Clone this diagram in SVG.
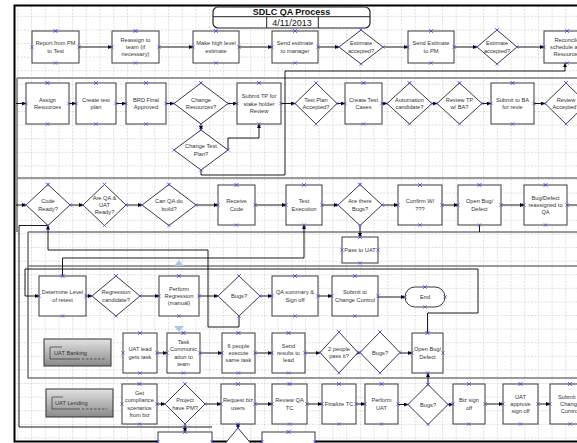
<svg xmlns="http://www.w3.org/2000/svg" width="577" height="443" viewBox="0 0 577 443">
<defs>
<pattern id="grid" patternUnits="userSpaceOnUse" x="3.6" y="2.2" width="13.7" height="13.6"><path d="M0,0.5H13.7M0.5,0V13.6" fill="none" stroke="#d0d0d0" stroke-width="0.7" stroke-dasharray="2,1.4"/></pattern>
<marker id="ah" viewBox="0 0 4 4" markerWidth="4" markerHeight="4" refX="4" refY="2" orient="auto" markerUnits="userSpaceOnUse"><path d="M0,0L4,2L0,4z" fill="#000"/></marker>
<marker id="cx" viewBox="0 0 4 4" markerWidth="4" markerHeight="4" refX="2" refY="2" markerUnits="userSpaceOnUse" overflow="visible"><path d="M0.3,0.3L3.7,3.7M0.3,3.7L3.7,0.3" stroke="#4646ff" stroke-width="0.7" fill="none"/></marker>
<linearGradient id="lg" x1="0" y1="0" x2="0" y2="1"><stop offset="0" stop-color="#e2e2e2"/><stop offset="1" stop-color="#8a8a8a"/></linearGradient>
</defs>
<style>
text{font-family:"Liberation Sans",Arial,sans-serif;font-size:5.7px;fill:#333;text-anchor:middle}
.nd rect{fill:#fff;stroke:#3a3a3a;stroke-width:1}
.cp{fill:none;stroke:none;marker-start:url(#cx);marker-mid:url(#cx);marker-end:url(#cx)}
.dm{fill:#fff;stroke:#3a3a3a;stroke-width:1;marker-start:url(#cx);marker-mid:url(#cx);marker-end:url(#cx)}
.c path{fill:none;stroke:#000;stroke-width:0.9}
.c path.a{marker-end:url(#ah)}
.lane{fill:none;stroke:#7a7a7a;stroke-width:1.6}
.lbl rect{fill:url(#lg);stroke:#333;stroke-width:1}
.lbl path{fill:none;stroke:#333;stroke-width:0.7}
.lbl text{text-anchor:start}
</style>
<rect width="577" height="443" fill="#fff"/>
<rect id="frame" x="14.5" y="5.5" width="600" height="436" fill="url(#grid)" stroke="#000" stroke-width="2"/>
<g id="lanes">
<path class="lane" d="M17,78H577M17,178H577M17,78V232M28,232H577M28,232V378H577M28,266H577"/>
</g>
<path d="M179,260L184,266H174Z" fill="#a9c8ea"/>
<path d="M174,326H184L179,332Z" fill="#a9c8ea"/>
<g id="connectors" class="c">
<path class="a" d="M79,47H112"/><path class="a" d="M159,47H193"/><path class="a" d="M239,47H272"/><path class="a" d="M318,47H339"/><path class="a" d="M383,47H408"/><path class="a" d="M454,47H477"/><path class="a" d="M517,47H544"/>
<path class="a" d="M201,170V175H285V71H565V63"/>
<path class="a" d="M16,103.5H26"/><path class="a" d="M69,103.5H76"/><path class="a" d="M116,103.5H126"/><path class="a" d="M166,103.5H174"/><path class="a" d="M228,103.5H237"/><path class="a" d="M281,103.5H295"/><path class="a" d="M337,103.5H345"/><path class="a" d="M382,103.5H387"/><path class="a" d="M432,103.5H437"/><path class="a" d="M482,103.5H491"/><path class="a" d="M534,103.5H545"/>
<path class="a" d="M201,124V130"/>
<path class="a" d="M228,150V138H259V124"/>
<path class="a" d="M16,205H26"/><path class="a" d="M70,205H83"/><path class="a" d="M126,205H142"/><path class="a" d="M196,205H218"/><path class="a" d="M255,205H286"/><path class="a" d="M322,205H338"/><path class="a" d="M382,205H398"/><path class="a" d="M442,205H458"/><path class="a" d="M501,205H524"/><path d="M567,205H577"/>
<path class="a" d="M360,225.5V237"/>
<path d="M479.5,225V232"/>
<path class="a" d="M62.5,276V258H304V225"/>
<path class="a" d="M239,316V327H208V250H48V225.5"/>
<path d="M48,225.5H19V427H212"/>
<path class="a" d="M427.5,333V313H478V269H25V296H39"/>
<path class="a" d="M86,296H92"/><path class="a" d="M140,296H159"/><path class="a" d="M199,296H218"/><path class="a" d="M260,296H272"/><path class="a" d="M318,296H332"/><path class="a" d="M378,297H405"/>
<path class="a" d="M157,353H167"/><path class="a" d="M200,353H222"/><path class="a" d="M255,353H272"/><path class="a" d="M305,353H320"/><path class="a" d="M358,353H360"/><path class="a" d="M400,353H412"/>
<path class="a" d="M157,404H165"/><path class="a" d="M205,404H221"/><path class="a" d="M255,404H272"/><path class="a" d="M307,404H322"/><path class="a" d="M356,404H365"/><path class="a" d="M398,404.5H408"/><path class="a" d="M448,404.5H453"/><path class="a" d="M485,404H503"/><path class="a" d="M538,404H550"/>
<path class="a" d="M428,384.5V373"/>
<path class="a" d="M185,424V432"/>
<path class="a" d="M238,424V428"/>
</g>
<g id="title">
<rect x="213" y="7" width="157" height="21" rx="5" fill="#fff" stroke="#222" stroke-width="1.2"/>
<path d="M213,16.7H370M266.7,16.7V28M318.3,16.7V28" fill="none" stroke="#222" stroke-width="1"/>
<text x="291.5" y="15" style="font-size:9px;font-weight:bold;fill:#111">SDLC QA Process</text>
<text x="292" y="25.5" style="font-size:9px;fill:#111">4/11/2013</text>
</g>
<g id="n_report" class="nd"><rect x="32" y="31" width="47" height="32"/><text x="55.5" y="45.4"><tspan x="55.5">Report from PM</tspan><tspan x="55.5" dy="7.3">to Test</tspan></text><polygon class="cp" points="55.5,31 79,47 55.5,63 32,47"/></g>
<g id="n_reassign" class="nd"><rect x="112" y="31" width="47" height="32"/><text x="135.5" y="41.7"><tspan x="135.5">Reassign to</tspan><tspan x="135.5" dy="7.3">team (if</tspan><tspan x="135.5" dy="7.3">necessary)</tspan></text><polygon class="cp" points="135.5,31 159,47 135.5,63 112,47"/></g>
<g id="n_make" class="nd"><rect x="193" y="31" width="46" height="32"/><text x="216" y="45.4"><tspan x="216">Make high level</tspan><tspan x="216" dy="7.3">estimate</tspan></text><polygon class="cp" points="216,31 239,47 216,63 193,47"/></g>
<g id="n_sendmgr" class="nd"><rect x="272" y="31" width="46" height="32"/><text x="295" y="45.4"><tspan x="295">Send estimate</tspan><tspan x="295" dy="7.3">to manager</tspan></text><polygon class="cp" points="295,31 318,47 295,63 272,47"/></g>
<g id="d_acc1" class="nd"><polygon class="dm" points="361,30 383,47 361,64 339,47"/><text x="361" y="45.4"><tspan x="361">Estimate</tspan><tspan x="361" dy="7.3">accepted?</tspan></text></g>
<g id="n_sendpm" class="nd"><rect x="408" y="31" width="46" height="32"/><text x="431" y="45.4"><tspan x="431">Send Estimate</tspan><tspan x="431" dy="7.3">to PM</tspan></text><polygon class="cp" points="431,31 454,47 431,63 408,47"/></g>
<g id="d_acc2" class="nd"><polygon class="dm" points="497,30 517,47 497,64 477,47"/><text x="497" y="45.4"><tspan x="497">Estimate</tspan><tspan x="497" dy="7.3">accepted?</tspan></text></g>
<g id="n_reconcile" class="nd"><rect x="544" y="31" width="46" height="32"/><text x="567" y="41.7"><tspan x="567">Reconcile</tspan><tspan x="567" dy="7.3">schedule and</tspan><tspan x="567" dy="7.3">Resources</tspan></text><polygon class="cp" points="567,31 590,47 567,63 544,47"/></g>
<g id="n_assign" class="nd"><rect x="26" y="83" width="43" height="41"/><text x="47.5" y="101.85"><tspan x="47.5">Assign</tspan><tspan x="47.5" dy="7.3">Resources</tspan></text><polygon class="cp" points="47.5,83 69,103.5 47.5,124 26,103.5"/></g>
<g id="n_create" class="nd"><rect x="76" y="83" width="40" height="41"/><text x="96" y="101.85"><tspan x="96">Create test</tspan><tspan x="96" dy="7.3">plan</tspan></text><polygon class="cp" points="96,83 116,103.5 96,124 76,103.5"/></g>
<g id="n_brd" class="nd"><rect x="126" y="83" width="40" height="41"/><text x="146" y="101.85"><tspan x="146">BRD Final</tspan><tspan x="146" dy="7.3">Approved</tspan></text><polygon class="cp" points="146,83 166,103.5 146,124 126,103.5"/></g>
<g id="d_chres" class="nd"><polygon class="dm" points="201,83 228,103.5 201,124 174,103.5"/><text x="201" y="101.85"><tspan x="201">Change</tspan><tspan x="201" dy="7.3">Resources?</tspan></text></g>
<g id="d_chtp" class="nd"><polygon class="dm" points="201,130 228,150 201,170 174,150"/><text x="201" y="148.35"><tspan x="201">Change Test</tspan><tspan x="201" dy="7.3">Plan?</tspan></text></g>
<g id="n_submittp" class="nd"><rect x="237" y="83" width="44" height="41"/><text x="259" y="98.2"><tspan x="259">Submit TP for</tspan><tspan x="259" dy="7.3">stake holder</tspan><tspan x="259" dy="7.3">Review</tspan></text><polygon class="cp" points="259,83 281,103.5 259,124 237,103.5"/></g>
<g id="d_tpacc" class="nd"><polygon class="dm" points="316,83 337,103.5 316,124 295,103.5"/><text x="316" y="101.85"><tspan x="316">Test Plan</tspan><tspan x="316" dy="7.3">Accepted?</tspan></text></g>
<g id="n_createtc" class="nd"><rect x="345" y="83" width="37" height="41"/><text x="363.5" y="101.85"><tspan x="363.5">Create Test</tspan><tspan x="363.5" dy="7.3">Cases</tspan></text><polygon class="cp" points="363.5,83 382,103.5 363.5,124 345,103.5"/></g>
<g id="d_auto" class="nd"><polygon class="dm" points="409.5,83 432,103.5 409.5,124 387,103.5"/><text x="409.5" y="101.85"><tspan x="409.5">Automation</tspan><tspan x="409.5" dy="7.3">candidate?</tspan></text></g>
<g id="d_review" class="nd"><polygon class="dm" points="459.5,83 482,103.5 459.5,124 437,103.5"/><text x="459.5" y="101.85"><tspan x="459.5">Review TP</tspan><tspan x="459.5" dy="7.3">w/ BA?</tspan></text></g>
<g id="n_submitba" class="nd"><rect x="491" y="83" width="43" height="41"/><text x="512.5" y="101.85"><tspan x="512.5">Submit to BA</tspan><tspan x="512.5" dy="7.3">for revie</tspan></text><polygon class="cp" points="512.5,83 534,103.5 512.5,124 491,103.5"/></g>
<g id="d_revacc" class="nd"><polygon class="dm" points="566,83 587,103.5 566,124 545,103.5"/><text x="566" y="101.85"><tspan x="566">Review</tspan><tspan x="566" dy="7.3">Accepted?</tspan></text></g>
<g id="d_code" class="nd"><polygon class="dm" points="48,184.5 70,205 48,225.5 26,205"/><text x="48" y="203.35"><tspan x="48">Code</tspan><tspan x="48" dy="7.3">Ready?</tspan></text></g>
<g id="d_qauat" class="nd"><polygon class="dm" points="104.5,184.5 126,205 104.5,225.5 83,205"/><text x="104.5" y="199.7"><tspan x="104.5">Are QA &amp;</tspan><tspan x="104.5" dy="7.3">UAT</tspan><tspan x="104.5" dy="7.3">Ready?</tspan></text></g>
<g id="d_build" class="nd"><polygon class="dm" points="169,184.5 196,205 169,225.5 142,205"/><text x="169" y="203.35"><tspan x="169">Can QA do</tspan><tspan x="169" dy="7.3">build?</tspan></text></g>
<g id="n_receive" class="nd"><rect x="218" y="185" width="37" height="40"/><text x="236.5" y="203.35"><tspan x="236.5">Receive</tspan><tspan x="236.5" dy="7.3">Code</tspan></text><polygon class="cp" points="236.5,185 255,205 236.5,225 218,205"/></g>
<g id="n_testexec" class="nd"><rect x="286" y="185" width="36" height="40"/><text x="304" y="203.35"><tspan x="304">Test</tspan><tspan x="304" dy="7.3">Execution</tspan></text><polygon class="cp" points="304,185 322,205 304,225 286,205"/></g>
<g id="d_bugs1" class="nd"><polygon class="dm" points="360,184.5 382,205 360,225.5 338,205"/><text x="360" y="203.35"><tspan x="360">Are there</tspan><tspan x="360" dy="7.3">Bugs?</tspan></text></g>
<g id="n_confirm" class="nd"><rect x="398" y="185" width="44" height="40"/><text x="420" y="203.35"><tspan x="420">Confirm W/</tspan><tspan x="420" dy="7.3">???</tspan></text><polygon class="cp" points="420,185 442,205 420,225 398,205"/></g>
<g id="n_openbug1" class="nd"><rect x="458" y="185" width="43" height="40"/><text x="479.5" y="203.35"><tspan x="479.5">Open Bug/</tspan><tspan x="479.5" dy="7.3">Defect</tspan></text><polygon class="cp" points="479.5,185 501,205 479.5,225 458,205"/></g>
<g id="n_reassigned" class="nd"><rect x="524" y="185" width="43" height="40"/><text x="545.5" y="199.7"><tspan x="545.5">Bug/Defect</tspan><tspan x="545.5" dy="7.3">reassigned to</tspan><tspan x="545.5" dy="7.3">QA</tspan></text><polygon class="cp" points="545.5,185 567,205 545.5,225 524,205"/></g>
<g id="n_pass" class="nd"><rect x="342" y="237" width="36" height="26"/><text x="360" y="252">Pass to UAT</text><polygon class="cp" points="360,237 378,250 360,263 342,250"/></g>
<g id="n_determine" class="nd"><rect x="39" y="276" width="47" height="40"/><text x="62.5" y="294.35"><tspan x="62.5">Determine Level</tspan><tspan x="62.5" dy="7.3">of retest</tspan></text><polygon class="cp" points="62.5,276 86,296 62.5,316 39,296"/></g>
<g id="d_regcand" class="nd"><polygon class="dm" points="116,276 140,296 116,316 92,296"/><text x="116" y="294.35"><tspan x="116">Regression</tspan><tspan x="116" dy="7.3">candidate?</tspan></text></g>
<g id="n_perform" class="nd"><rect x="159" y="276" width="40" height="40"/><text x="179" y="290.7"><tspan x="179">Perform</tspan><tspan x="179" dy="7.3">Regression</tspan><tspan x="179" dy="7.3">(manual)</tspan></text><polygon class="cp" points="179,276 199,296 179,316 159,296"/></g>
<g id="d_bugs2" class="nd"><polygon class="dm" points="239,276 260,296 239,316 218,296"/><text x="239" y="298">Bugs?</text></g>
<g id="n_qasum" class="nd"><rect x="272" y="276" width="46" height="40"/><text x="295" y="294.35"><tspan x="295">QA summary &amp;</tspan><tspan x="295" dy="7.3">Sign off</tspan></text><polygon class="cp" points="295,276 318,296 295,316 272,296"/></g>
<g id="n_submitcc1" class="nd"><rect x="332" y="276" width="46" height="40"/><text x="355" y="294.35"><tspan x="355">Submit to</tspan><tspan x="355" dy="7.3">Change Control</tspan></text><polygon class="cp" points="355,276 378,296 355,316 332,296"/></g>
<g id="t_end" class="nd"><rect x="405" y="287" width="40" height="20" rx="10"/><text x="425" y="299">End</text><polygon class="cp" points="425,287 445,297 425,307 405,297"/></g>
<g id="lane_uat_banking" class="lbl"><rect x="44" y="339" width="67" height="27"/><path d="M62,347H50V359H80"/><path d="M82,359H106" stroke-dasharray="2.5,1.5"/><text x="54" y="354.5">UAT Banking</text></g>
<g id="n_uatlead" class="nd"><rect x="123" y="333" width="34" height="40"/><text x="140" y="351.35"><tspan x="140">UAT lead</tspan><tspan x="140" dy="7.3">gets task</tspan></text><polygon class="cp" points="140,333 157,353 140,373 123,353"/></g>
<g id="n_taskcomm" class="nd"><rect x="167" y="333" width="33" height="40"/><text x="183.5" y="344.05"><tspan x="183.5">Task</tspan><tspan x="183.5" dy="7.3">Communic</tspan><tspan x="183.5" dy="7.3">ation to</tspan><tspan x="183.5" dy="7.3">team</tspan></text><polygon class="cp" points="183.5,333 200,353 183.5,373 167,353"/></g>
<g id="n_6people" class="nd"><rect x="222" y="333" width="33" height="40"/><text x="238.5" y="347.7"><tspan x="238.5">6 people</tspan><tspan x="238.5" dy="7.3">execute</tspan><tspan x="238.5" dy="7.3">same task</tspan></text><polygon class="cp" points="238.5,333 255,353 238.5,373 222,353"/></g>
<g id="n_sendres" class="nd"><rect x="272" y="333" width="33" height="40"/><text x="288.5" y="347.7"><tspan x="288.5">Send</tspan><tspan x="288.5" dy="7.3">results to</tspan><tspan x="288.5" dy="7.3">lead</tspan></text><polygon class="cp" points="288.5,333 305,353 288.5,373 272,353"/></g>
<g id="d_2people" class="nd"><polygon class="dm" points="339,332 358,352.5 339,373 320,352.5"/><text x="339" y="350.85"><tspan x="339">2 people</tspan><tspan x="339" dy="7.3">pass it?</tspan></text></g>
<g id="d_bugs3" class="nd"><polygon class="dm" points="380,332 400,352.5 380,373 360,352.5"/><text x="380" y="354.5">Bugs?</text></g>
<g id="n_openbug2" class="nd"><rect x="412" y="333" width="31" height="40"/><text x="427.5" y="351.35"><tspan x="427.5">Open Bug/</tspan><tspan x="427.5" dy="7.3">Defect</tspan></text><polygon class="cp" points="427.5,333 443,353 427.5,373 412,353"/></g>
<g id="lane_uat_lending" class="lbl"><rect x="46" y="389" width="67" height="28"/><path d="M63,397H52V409H80"/><path d="M82,409H107" stroke-dasharray="2.5,1.5"/><text x="55" y="405">UAT Lending</text></g>
<g id="n_getcomp" class="nd"><rect x="122" y="384" width="35" height="40"/><text x="139.5" y="395.05"><tspan x="139.5">Get</tspan><tspan x="139.5" dy="7.3">compliance</tspan><tspan x="139.5" dy="7.3">scenarios</tspan><tspan x="139.5" dy="7.3">from biz</tspan></text><polygon class="cp" points="139.5,384 157,404 139.5,424 122,404"/></g>
<g id="d_pm" class="nd"><polygon class="dm" points="185,384 205,404 185,424 165,404"/><text x="185" y="402.35"><tspan x="185">Project</tspan><tspan x="185" dy="7.3">have PM?</tspan></text></g>
<g id="n_request" class="nd"><rect x="221" y="384" width="34" height="40"/><text x="238" y="402.35"><tspan x="238">Request biz</tspan><tspan x="238" dy="7.3">users</tspan></text><polygon class="cp" points="238,384 255,404 238,424 221,404"/></g>
<g id="n_reviewqa" class="nd"><rect x="272" y="384" width="35" height="40"/><text x="289.5" y="402.35"><tspan x="289.5">Review QA</tspan><tspan x="289.5" dy="7.3">TC</tspan></text><polygon class="cp" points="289.5,384 307,404 289.5,424 272,404"/></g>
<g id="n_finalize" class="nd"><rect x="322" y="384" width="34" height="40"/><text x="339" y="406">Finalize TC</text><polygon class="cp" points="339,384 356,404 339,424 322,404"/></g>
<g id="n_performuat" class="nd"><rect x="365" y="384" width="33" height="40"/><text x="381.5" y="402.35"><tspan x="381.5">Perform</tspan><tspan x="381.5" dy="7.3">UAT</tspan></text><polygon class="cp" points="381.5,384 398,404 381.5,424 365,404"/></g>
<g id="d_bugs4" class="nd"><polygon class="dm" points="428,384.5 448,404.5 428,424.5 408,404.5"/><text x="428" y="406.5">Bugs?</text></g>
<g id="n_bizsign" class="nd"><rect x="453" y="384" width="32" height="40"/><text x="469" y="402.35"><tspan x="469">Biz sign</tspan><tspan x="469" dy="7.3">off</tspan></text><polygon class="cp" points="469,384 485,404 469,424 453,404"/></g>
<g id="n_uatapprove" class="nd"><rect x="503" y="384" width="35" height="40"/><text x="520.5" y="398.7"><tspan x="520.5">UAT</tspan><tspan x="520.5" dy="7.3">approve</tspan><tspan x="520.5" dy="7.3">sign off</tspan></text><polygon class="cp" points="520.5,384 538,404 520.5,424 503,404"/></g>
<g id="n_submitcc2" class="nd"><rect x="550" y="384" width="40" height="40"/><text x="570" y="398.7"><tspan x="570">Submit to</tspan><tspan x="570" dy="7.3">Change</tspan><tspan x="570" dy="7.3">Control</tspan></text><polygon class="cp" points="570,384 590,404 570,424 550,404"/></g>
<g id="n_bottom1" class="nd"><rect x="158" y="432" width="54" height="20"/><polygon class="cp" points="185,432 212,442 185,452 158,442"/></g>
<g id="d_bottom2" class="nd"><polygon class="dm" points="238,428 258,452 238,476 218,452"/></g>
<g id="n_bottom3" class="nd"><rect x="262" y="432" width="53" height="20"/><polygon class="cp" points="288.5,432 315,442 288.5,452 262,442"/></g>
</svg>
